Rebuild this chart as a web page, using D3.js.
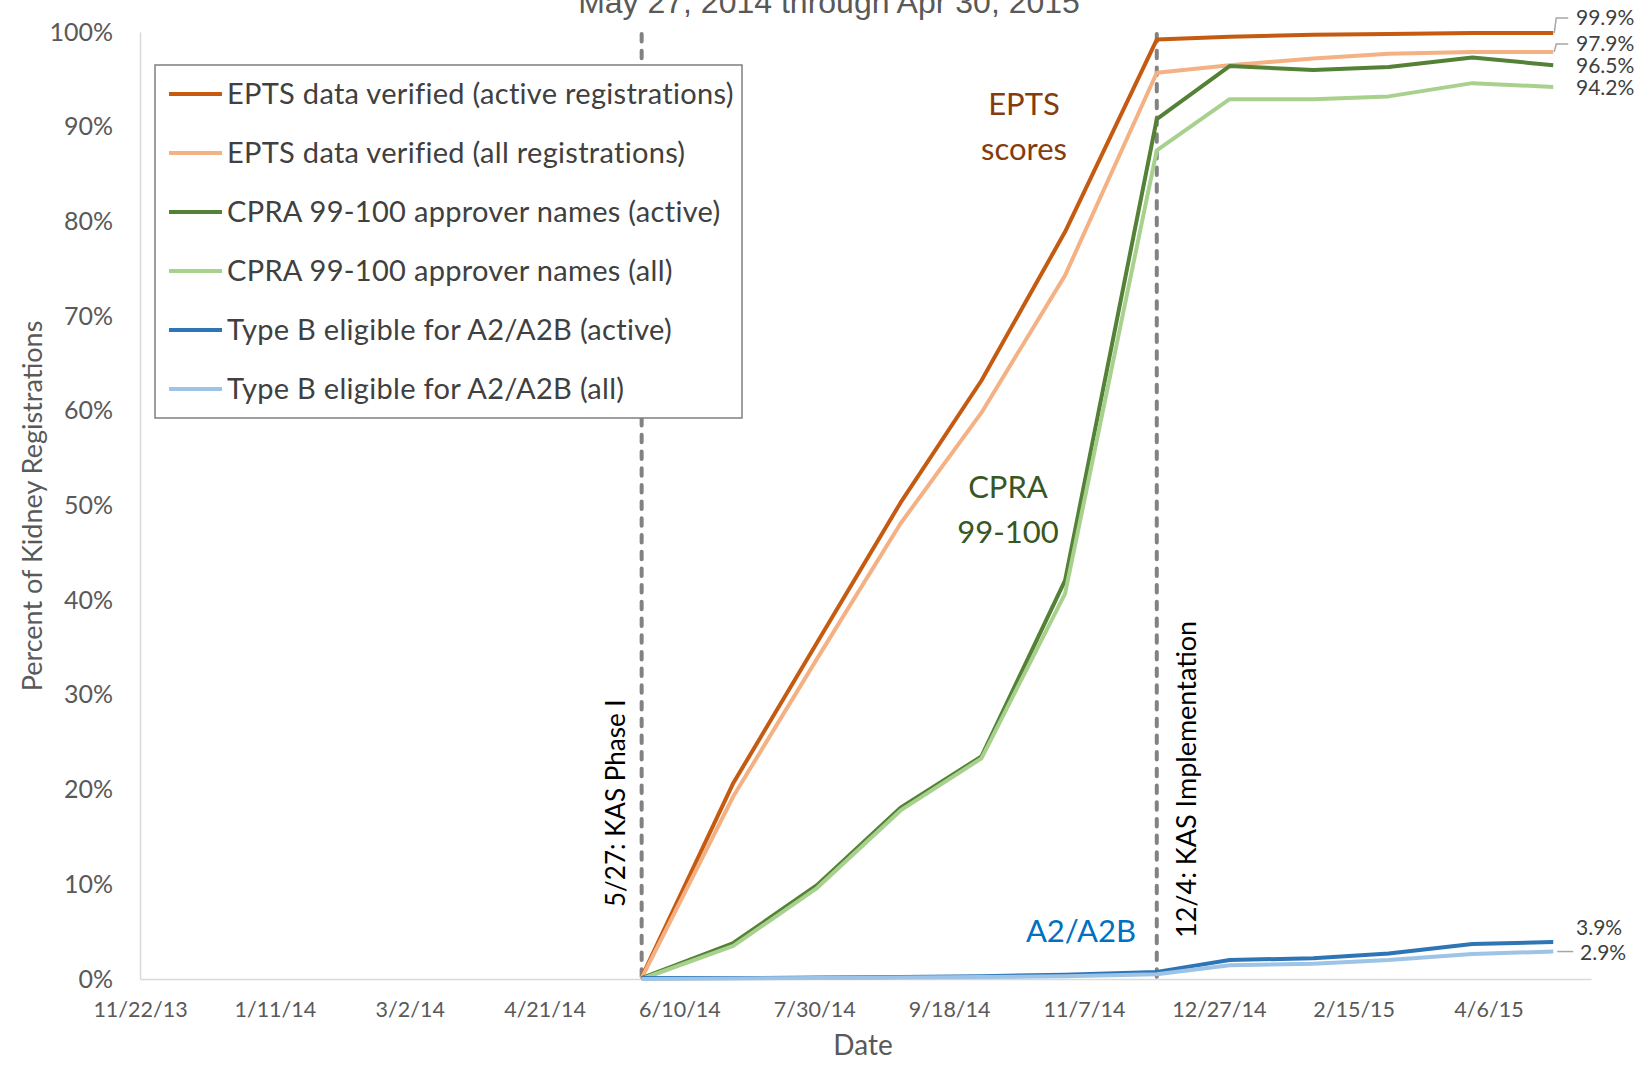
<!DOCTYPE html>
<html>
<head>
<meta charset="utf-8">
<script src="https://cdn.jsdelivr.net/npm/d3@7"></script>
<style>
  body { margin: 0; background: #fff; }
  svg { display: block; font-family: Lato, "Open Sans", sans-serif; }
</style>
</head>
<body>
<svg id="chart"></svg>
<script>
// month-end snapshots, May 27 2014 - Apr 30 2015
const dates = ["2014-05-27", "2014-06-30", "2014-07-31", "2014-08-31", "2014-09-30", "2014-10-31",
  "2014-12-04", "2014-12-31", "2015-01-31", "2015-02-28", "2015-03-31", "2015-04-30"];

const eptsActive = [0.2, 20.7, 35.5, 50.3, 63.2, 78.9, 99.2, 99.5, 99.7, 99.8, 99.9, 99.9];
const eptsAll = [0.1, 19.3, 33.8, 48.1, 59.8, 74.3, 95.7, 96.5, 97.2, 97.7, 97.9, 97.9];
const cpraActive = [0.1, 3.8, 9.9, 18.1, 23.5, 42.1, 90.8, 96.4, 96.0, 96.3, 97.3, 96.5];
const cpraAll = [0.0, 3.5, 9.6, 17.8, 23.3, 40.7, 87.5, 92.9, 92.9, 93.2, 94.6, 94.2];
const typeBActive = [0.1, 0.1, 0.15, 0.2, 0.3, 0.45, 0.75, 2.0, 2.2, 2.7, 3.7, 3.9];
const typeBAll = [0.0, 0.05, 0.1, 0.15, 0.2, 0.3, 0.5, 1.45, 1.6, 2.0, 2.65, 2.9];

const seriesNames = [
  "EPTS data verified (active registrations)",
  "EPTS data verified (all registrations)",
  "CPRA 99-100 approver names (active)",
  "CPRA 99-100 approver names (all)",
  "Type B eligible for A2/A2B (active)",
  "Type B eligible for A2/A2B (all)"
];
const seriesColors = ["#C55A11", "#F4B183", "#538135", "#A9D18E", "#2E75B6", "#9DC3E6"];
const seriesValues = [eptsActive, eptsAll, cpraActive, cpraAll, typeBActive, typeBAll];

const xTickDates = ["2013-11-22", "2014-01-11", "2014-03-02", "2014-04-21", "2014-06-10", "2014-07-30",
  "2014-09-18", "2014-11-07", "2014-12-27", "2015-02-15", "2015-04-06"];
const yTicks = [0, 10, 20, 30, 40, 50, 60, 70, 80, 90, 100];

const events = [
  { date: "2014-05-27", label: "5/27: KAS Phase I" },
  { date: "2014-12-04", label: "12/4: KAS Implementation" }
];

const width = 1652;
const height = 1067;
const parse = d3.timeParse("%Y-%m-%d");
const fmtTick = d3.timeFormat("%-m/%-d/%y");

const svg = d3.select("#chart").attr("width", width).attr("height", height);

const x = d3.scaleTime()
  .domain([parse("2013-11-22"), parse("2015-05-14")])
  .range([140, 1591]);
const y = d3.scaleLinear().domain([0, 100]).range([979, 32]);

// title (mostly cut off at top of the picture)
svg.append("text")
  .attr("x", 829).attr("y", 13)
  .attr("text-anchor", "middle")
  .style("font-family", "'Liberation Sans', Arial, sans-serif")
  .style("font-size", "32px")
  .style("fill", "#595959")
  .text("May 27, 2014 through Apr 30, 2015");

// axes
const xAxis = svg.append("g")
  .attr("transform", `translate(0,${y(0)})`)
  .call(d3.axisBottom(x).tickValues(xTickDates.map(parse)).tickFormat(fmtTick).tickSize(0).tickPadding(23));
xAxis.select(".domain").attr("stroke", "#D9D9D9").attr("stroke-width", 1.5);
xAxis.selectAll("text").style("font-size", "21.5px").style("fill", "#595959").style("font-family", "Lato");

const yAxis = svg.append("g")
  .attr("transform", `translate(${x.range()[0]},0)`)
  .call(d3.axisLeft(y).tickValues(yTicks).tickFormat(d => d + "%").tickSize(0).tickPadding(27));
yAxis.select(".domain").attr("stroke", "#D9D9D9").attr("stroke-width", 1.5);
yAxis.selectAll("text").style("font-size", "25px").style("fill", "#595959").style("font-family", "Lato");

svg.append("text")
  .attr("x", 863).attr("y", 1055)
  .attr("text-anchor", "middle")
  .style("font-size", "28px").style("fill", "#595959")
  .text("Date");

svg.append("text")
  .attr("transform", "translate(33,506) rotate(-90)")
  .attr("text-anchor", "middle")
  .attr("dy", "0.35em")
  .style("font-size", "27px").style("fill", "#595959")
  .text("Percent of Kidney Registrations");

// event markers
svg.selectAll(".event")
  .data(events)
  .enter()
  .append("line")
  .attr("class", "event")
  .attr("x1", d => x(parse(d.date))).attr("x2", d => x(parse(d.date)))
  .attr("y1", y(100) + 2).attr("y2", y(0))
  .attr("stroke", "#828282")
  .attr("stroke-width", 4)
  .attr("stroke-linecap", "round")
  .attr("stroke-dasharray", "7.5,9.2");

svg.append("text")
  .attr("transform", `translate(${x(parse(events[0].date)) - 26},907) rotate(-90)`)
  .attr("dy", "0.35em")
  .style("font-size", "26px").style("fill", "#000")
  .text(events[0].label);

svg.append("text")
  .attr("transform", `translate(${x(parse(events[1].date)) + 30},938) rotate(-90)`)
  .attr("dy", "0.35em")
  .style("font-size", "27px").style("fill", "#000")
  .text(events[1].label);

// series lines
const line = d3.line()
  .x((d, i) => x(parse(dates[i])))
  .y(d => y(d));

svg.selectAll(".series")
  .data(seriesValues)
  .enter()
  .append("path")
  .attr("class", "series")
  .attr("d", line)
  .attr("fill", "none")
  .attr("stroke", (d, i) => seriesColors[i])
  .attr("stroke-width", 4)
  .attr("stroke-linejoin", "round");

// group annotations
const annot = (lines, cx, baselines, color) => {
  lines.forEach((t, i) => {
    svg.append("text")
      .attr("x", cx).attr("y", baselines[i])
      .attr("text-anchor", "middle")
      .style("font-size", "31px").style("fill", color)
      .text(t);
  });
};
annot(["EPTS", "scores"], 1024, [115, 160], "#843C0C");
annot(["CPRA", "99-100"], 1008, [498, 543], "#385723");
annot(["A2/A2B"], 1081, [942], "#0070C0");

// end-of-series value labels
const lastX = x(parse(dates[dates.length - 1]));
const endLabels = [
  { v: eptsActive[11], ly: 18, leader: true },
  { v: eptsAll[11], ly: 44, leader: true },
  { v: cpraActive[11], ly: 66, leader: false },
  { v: cpraAll[11], ly: 88, leader: false },
  { v: typeBActive[11], ly: 928, leader: false },
  { v: typeBAll[11], ly: 953, leader: "flat" }
];
endLabels.forEach(d => {
  if (d.leader === true) {
    svg.append("path")
      .attr("d", `M${lastX + 1},${y(d.v)} L${lastX + 3},${d.ly} L${lastX + 15},${d.ly}`)
      .attr("fill", "none").attr("stroke", "#A6A6A6").attr("stroke-width", 1.5);
  } else if (d.leader === "flat") {
    svg.append("line")
      .attr("x1", lastX + 4).attr("x2", lastX + 20)
      .attr("y1", y(d.v)).attr("y2", y(d.v))
      .attr("stroke", "#A6A6A6").attr("stroke-width", 1.5);
  }
  svg.append("text")
    .attr("x", d.leader === "flat" ? 1580 : 1576).attr("y", d.ly)
    .attr("dy", "0.35em")
    .style("font-size", "21px").style("fill", "#404040")
    .text(d.v.toFixed(1) + "%");
});

// legend
const legend = svg.append("g");
legend.append("rect")
  .attr("x", 155).attr("y", 65).attr("width", 587).attr("height", 353)
  .attr("fill", "#fff").attr("stroke", "#7F7F7F").attr("stroke-width", 1.5);
const item = legend.selectAll(".item")
  .data(seriesNames)
  .enter()
  .append("g")
  .attr("transform", (d, i) => `translate(0,${94 + i * 59})`);
item.append("line")
  .attr("x1", 169).attr("x2", 222)
  .attr("stroke", (d, i) => seriesColors[i])
  .attr("stroke-width", 4);
item.append("text")
  .attr("x", 227)
  .attr("dy", "0.35em")
  .style("font-size", "29px").style("letter-spacing", "0.3px").style("fill", "#404040")
  .text(d => d);
</script>
</body>
</html>
